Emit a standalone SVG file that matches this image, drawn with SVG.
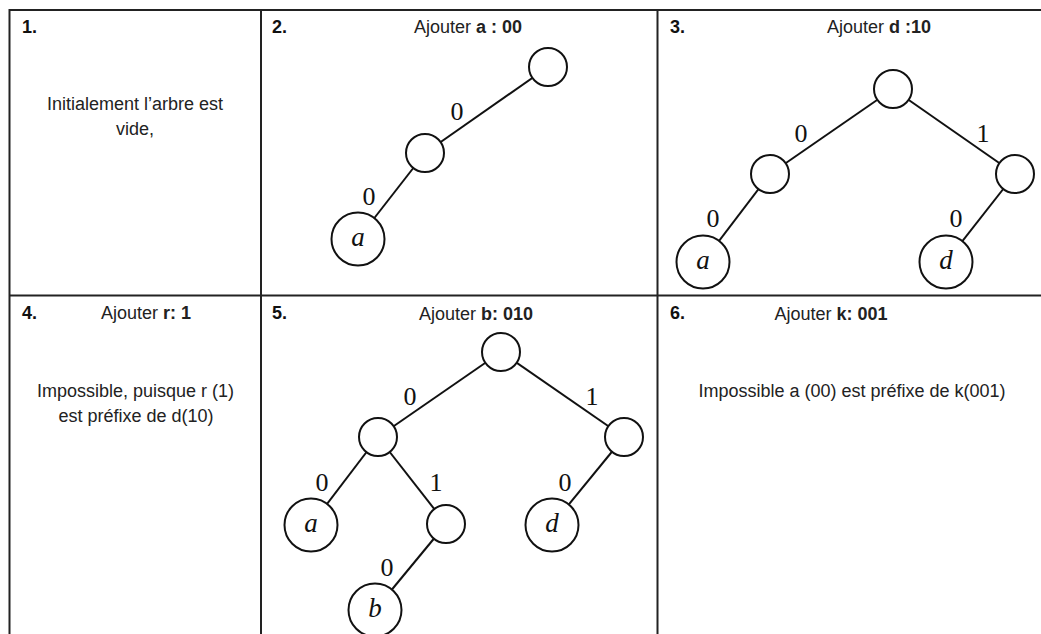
<svg xmlns="http://www.w3.org/2000/svg" width="1041" height="634" viewBox="0 0 1041 634">
<style>
.grid{stroke:#222;stroke-width:2;fill:none}
.txt{font-family:"Liberation Sans",Arial,sans-serif;font-size:18px;fill:#222}
.num{font-family:"Liberation Sans",Arial,sans-serif;font-size:18px;font-weight:bold;fill:#111}
.b{font-weight:bold}
.edge{stroke:#111;stroke-width:2;fill:none}
.node{stroke:#111;stroke-width:2;fill:#fff}
.lbl{font-family:"Liberation Serif","Times New Roman",serif;font-size:26px;fill:#111;text-anchor:middle}
.leaf{font-family:"Liberation Serif","Times New Roman",serif;font-size:27px;font-style:italic;fill:#111;text-anchor:middle}
.c{text-anchor:middle}
</style>
<rect width="1041" height="634" fill="#fff"/>
<g id="grid">
<line class="grid" x1="9" y1="10" x2="1041" y2="10"/>
<line class="grid" x1="9" y1="295.5" x2="1041" y2="295.5"/>
<line class="grid" x1="9.5" y1="9" x2="9.5" y2="634"/>
<line class="grid" x1="261" y1="10" x2="261" y2="634"/>
<line class="grid" x1="657.5" y1="10" x2="657.5" y2="634"/>
</g>
<g id="cell1">
<text class="num" x="22" y="33">1.</text>
<text class="txt c" x="135" y="110">Initialement l’arbre est</text>
<text class="txt c" x="135" y="135">vide,</text>
</g>
<g id="cell2">
<text class="num" x="272" y="33">2.</text>
<text class="txt c" x="468" y="33">Ajouter <tspan class="b">a : 00</tspan></text>
</g>
<g id="cell3">
<text class="num" x="670" y="33">3.</text>
<text class="txt c" x="879" y="33">Ajouter <tspan class="b">d :10</tspan></text>
</g>
<g id="cell4">
<text class="num" x="22" y="319">4.</text>
<text class="txt c" x="146" y="319">Ajouter <tspan class="b">r: 1</tspan></text>
<text class="txt c" x="135.5" y="397">Impossible, puisque r (1)</text>
<text class="txt c" x="136" y="422">est préfixe de d(10)</text>
</g>
<g id="cell5">
<text class="num" x="272" y="319">5.</text>
<text class="txt c" x="476" y="320">Ajouter <tspan class="b">b: 010</tspan></text>
</g>
<g id="cell6">
<text class="num" x="670" y="319">6.</text>
<text class="txt c" x="831" y="320">Ajouter  <tspan class="b">k: 001</tspan></text>
<text class="txt c" x="852" y="397">Impossible a (00) est préfixe de k(001)</text>
</g>
<g id="connectors">
<line class="edge" x1="548" y1="67" x2="425" y2="153"/>
<line class="edge" x1="425" y1="153" x2="358" y2="239"/>
<line class="edge" x1="893" y1="89" x2="770" y2="174"/>
<line class="edge" x1="893" y1="89" x2="1015" y2="174"/>
<line class="edge" x1="770" y1="174" x2="703" y2="262"/>
<line class="edge" x1="1015" y1="174" x2="946" y2="262"/>
<line class="edge" x1="501" y1="352" x2="378" y2="437"/>
<line class="edge" x1="501" y1="352" x2="624" y2="437"/>
<line class="edge" x1="378" y1="437" x2="311" y2="525"/>
<line class="edge" x1="378" y1="437" x2="446" y2="524"/>
<line class="edge" x1="624" y1="437" x2="552" y2="525"/>
<line class="edge" x1="446" y1="524" x2="375" y2="610"/>
<text class="lbl" x="457" y="120">0</text>
<text class="lbl" x="369" y="205">0</text>
<text class="lbl" x="801" y="142">0</text>
<text class="lbl" x="983" y="142">1</text>
<text class="lbl" x="713" y="227">0</text>
<text class="lbl" x="956" y="227">0</text>
<text class="lbl" x="410" y="405">0</text>
<text class="lbl" x="592" y="405">1</text>
<text class="lbl" x="322" y="491">0</text>
<text class="lbl" x="436" y="491">1</text>
<text class="lbl" x="565" y="491">0</text>
<text class="lbl" x="387" y="576">0</text>
</g>
<g id="t2-root"><circle class="node" cx="548" cy="67" r="19"/></g>
<g id="t2-n0"><circle class="node" cx="425" cy="153" r="19"/></g>
<g id="t2-a"><circle class="node" cx="358" cy="239" r="26.5"/><text class="leaf" x="358" y="246">a</text></g>
<g id="t3-root"><circle class="node" cx="893" cy="89" r="19"/></g>
<g id="t3-n0"><circle class="node" cx="770" cy="174" r="19"/></g>
<g id="t3-n1"><circle class="node" cx="1015" cy="174" r="19"/></g>
<g id="t3-a"><circle class="node" cx="703" cy="262" r="26.5"/><text class="leaf" x="703" y="269">a</text></g>
<g id="t3-d"><circle class="node" cx="946" cy="262" r="26.5"/><text class="leaf" x="946" y="269">d</text></g>
<g id="t5-root"><circle class="node" cx="501" cy="352" r="19"/></g>
<g id="t5-n0"><circle class="node" cx="378" cy="437" r="19"/></g>
<g id="t5-n1"><circle class="node" cx="624" cy="437" r="19"/></g>
<g id="t5-a"><circle class="node" cx="311" cy="525" r="26.5"/><text class="leaf" x="311" y="532">a</text></g>
<g id="t5-n01"><circle class="node" cx="446" cy="524" r="19"/></g>
<g id="t5-d"><circle class="node" cx="552" cy="525" r="26.5"/><text class="leaf" x="552" y="532">d</text></g>
<g id="t5-b"><circle class="node" cx="375" cy="610" r="26.5"/><text class="leaf" x="375" y="617">b</text></g>
</svg>
